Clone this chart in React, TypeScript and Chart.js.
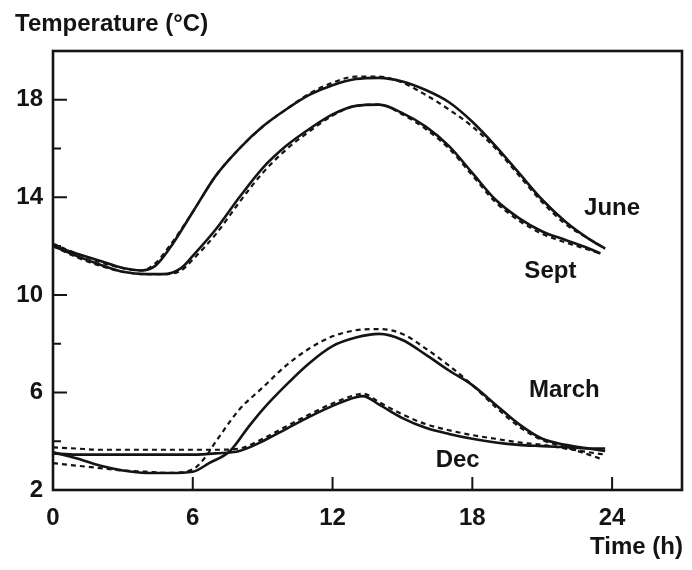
import { useEffect, useRef } from "react";
import { Chart, registerables } from "chart.js";

Chart.register(...registerables);

// Axis ticks
const xTickValues = [0, 6, 12, 18, 24];
const yTickValues = [2, 6, 10, 14, 18];
const yMinorTickValues = [4, 8, 12, 16];

// June
const juneHours = [0, 1, 2, 3, 3.8, 4.4, 5, 6, 7, 8, 9, 10, 11, 12, 13, 14, 15, 16, 17, 18, 19, 20, 21, 22, 23, 23.7];
const juneSolid = [12.0, 11.7, 11.4, 11.1, 11.0, 11.2, 11.9, 13.4, 14.9, 16.0, 16.9, 17.6, 18.2, 18.6, 18.85, 18.9, 18.75, 18.4, 17.9, 17.1, 16.1, 15.0, 13.9, 13.0, 12.3, 11.9];
const juneDashed = [12.1, 11.7, 11.35, 11.1, 11.0, 11.3, 12.0, 13.4, 14.9, 16.0, 16.9, 17.6, 18.25, 18.7, 18.95, 18.95, 18.7, 18.2, 17.6, 16.9, 16.0, 14.9, 13.8, 12.9, 12.3, 11.9];

// Sept
const septHours = [0, 1, 2, 3, 4, 4.7, 5.5, 6, 7, 8, 9, 10, 11, 12, 13, 14, 15, 16, 17, 18, 19, 20, 21, 22, 23, 23.5];
const septSolid = [12.0, 11.6, 11.25, 10.95, 10.85, 10.85, 11.1, 11.6, 12.7, 14.0, 15.2, 16.1, 16.8, 17.4, 17.75, 17.8, 17.45, 16.9, 16.1, 15.0, 13.9, 13.15, 12.6, 12.25, 11.9, 11.7];
const septDashed = [12.0, 11.55, 11.2, 10.95, 10.85, 10.85, 11.0, 11.45, 12.5, 13.8, 15.0, 15.95, 16.7, 17.35, 17.75, 17.8, 17.4, 16.8, 16.0, 14.9, 13.8, 13.05, 12.5, 12.15, 11.85, 11.7];

// March
const marchHours = [0, 1, 2, 3, 4, 5, 6, 6.7, 7.6, 8.4, 9, 10, 11, 12, 13, 14, 15, 16, 17, 18, 19, 20, 21, 22, 23, 23.7];
const marchSolid = [3.55, 3.3, 3.0, 2.8, 2.7, 2.7, 2.75, 3.1, 3.6, 4.6, 5.3, 6.3, 7.2, 7.9, 8.25, 8.4, 8.15, 7.55, 6.9, 6.3, 5.5, 4.7, 4.1, 3.85, 3.7, 3.6];
const marchDashedHours = [0, 1, 2, 3, 4, 5, 6, 6.5, 7, 8, 9, 10, 11, 12, 13, 14, 15, 16, 17, 18, 19, 20, 21, 22, 23, 23.6];
const marchDashed = [3.1, 3.0, 2.9, 2.8, 2.75, 2.7, 2.85, 3.3, 4.0, 5.3, 6.2, 7.1, 7.8, 8.3, 8.55, 8.6, 8.4, 7.8, 7.1, 6.3, 5.4, 4.6, 4.05, 3.75, 3.45, 3.25];

// Dec
const decHours = [0, 1, 2, 3, 4, 5, 6, 7, 8, 9, 10, 11, 12, 13, 13.3, 14, 15, 16, 17, 18, 19, 20, 21, 22, 23, 23.7];
const decSolid = [3.5, 3.45, 3.45, 3.45, 3.45, 3.45, 3.45, 3.5, 3.6, 4.0, 4.5, 5.0, 5.45, 5.8, 5.85, 5.5, 4.95, 4.55, 4.3, 4.1, 3.95, 3.85, 3.8, 3.75, 3.7, 3.7];
const decDashed = [3.75, 3.7, 3.65, 3.65, 3.65, 3.65, 3.65, 3.65, 3.7, 4.1, 4.6, 5.1, 5.55, 5.9, 5.95, 5.6, 5.1, 4.7, 4.45, 4.25, 4.1, 3.95, 3.85, 3.7, 3.55, 3.45];

// Curve name labels (placed in data units)
const curveNames = ["June", "Sept", "March", "Dec"];
const curveLabelHours = [24.0, 21.35, 21.95, 17.37];
const curveLabelTemps = [13.56, 10.98, 6.1, 3.2];

const FONT_FAMILY = '"Liberation Sans", Arial, Helvetica, sans-serif';
const FONT_SIZE = 24;
const INK = "#141414";

const toPoints = (hours: number[], temps: number[]) =>
  hours.map((h, i) => ({ x: h, y: temps[i] }));

const solidStyle = {
  borderColor: INK,
  borderWidth: 2.6,
  pointRadius: 0,
  fill: false,
  cubicInterpolationMode: "monotone" as const,
};
const dashedStyle = {
  borderColor: INK,
  borderWidth: 2.2,
  borderDash: [5, 4],
  pointRadius: 0,
  fill: false,
  cubicInterpolationMode: "monotone" as const,
};

const decorPlugin = {
  id: "decor",
  afterDraw(chart: any) {
    const { ctx, chartArea: a, scales } = chart;
    const x = scales.x;
    const y = scales.y;
    ctx.save();
    ctx.strokeStyle = INK;
    ctx.lineWidth = 2.6;
    ctx.strokeRect(a.left, a.top, a.right - a.left, a.bottom - a.top);

    ctx.lineWidth = 2;
    ctx.beginPath();
    yTickValues.forEach((v) => {
      if (v === y.min) return;
      const py = y.getPixelForValue(v);
      ctx.moveTo(a.left, py);
      ctx.lineTo(a.left + 14, py);
    });
    yMinorTickValues.forEach((v) => {
      const py = y.getPixelForValue(v);
      ctx.moveTo(a.left, py);
      ctx.lineTo(a.left + 8, py);
    });
    xTickValues.forEach((v) => {
      if (v === x.min) return;
      const px = x.getPixelForValue(v);
      ctx.moveTo(px, a.bottom);
      ctx.lineTo(px, a.bottom - 13);
    });
    ctx.stroke();

    ctx.fillStyle = INK;
    ctx.font = `bold ${FONT_SIZE}px ${FONT_FAMILY}`;
    ctx.textBaseline = "middle";
    ctx.textAlign = "left";
    ctx.fillText("Temperature (°C)", 7, 16);
    ctx.textAlign = "right";
    ctx.fillText("Time (h)", a.right + 1, 539);
    ctx.textAlign = "center";
    curveNames.forEach((name, i) => {
      ctx.fillText(
        name,
        x.getPixelForValue(curveLabelHours[i]),
        y.getPixelForValue(curveLabelTemps[i])
      );
    });
    ctx.restore();
  },
};

export default function App() {
  const canvasRef = useRef<HTMLCanvasElement | null>(null);

  useEffect(() => {
    if (!canvasRef.current) return;
    const chart = new Chart(canvasRef.current, {
      type: "line",
      data: {
        datasets: [
          { label: "June dashed", data: toPoints(juneHours, juneDashed), ...dashedStyle },
          { label: "Sept dashed", data: toPoints(septHours, septDashed), ...dashedStyle },
          { label: "March dashed", data: toPoints(marchDashedHours, marchDashed), ...dashedStyle },
          { label: "Dec dashed", data: toPoints(decHours, decDashed), ...dashedStyle },
          { label: "June", data: toPoints(juneHours, juneSolid), ...solidStyle },
          { label: "Sept", data: toPoints(septHours, septSolid), ...solidStyle },
          { label: "March", data: toPoints(marchHours, marchSolid), ...solidStyle },
          { label: "Dec", data: toPoints(decHours, decSolid), ...solidStyle },
        ],
      },
      options: {
        animation: false,
        responsive: true,
        maintainAspectRatio: false,
        devicePixelRatio: 1,
        layout: { padding: { top: 43, right: 2, left: 0, bottom: 0 } },
        plugins: {
          legend: { display: false },
          tooltip: { enabled: false },
          title: { display: false },
        },
        scales: {
          x: {
            type: "linear",
            min: 0,
            max: 27,
            grid: { display: false, drawTicks: false, tickLength: 0 },
            border: { display: false },
            afterBuildTicks: (scale: any) => {
              scale.ticks = xTickValues.map((v) => ({ value: v }));
            },
            afterFit: (scale: any) => {
              scale.height = 72;
            },
            ticks: {
              autoSkip: false,
              maxRotation: 0,
              minRotation: 0,
              padding: 14,
              color: INK,
              font: { family: FONT_FAMILY, size: FONT_SIZE, weight: "bold" },
            },
          },
          y: {
            type: "linear",
            min: 2,
            max: 20,
            grid: { display: false, drawTicks: false, tickLength: 0 },
            border: { display: false },
            afterBuildTicks: (scale: any) => {
              scale.ticks = yTickValues.map((v) => ({ value: v }));
            },
            afterFit: (scale: any) => {
              scale.width = 45;
            },
            ticks: {
              autoSkip: false,
              padding: 10,
              color: INK,
              font: { family: FONT_FAMILY, size: FONT_SIZE, weight: "bold" },
            },
          },
        },
      },
      plugins: [decorPlugin],
    });
    return () => chart.destroy();
  }, []);

  return (
    <div style={{ width: 676, height: 554, position: "relative", background: "#fff" }}>
      <canvas ref={canvasRef} />
    </div>
  );
}
